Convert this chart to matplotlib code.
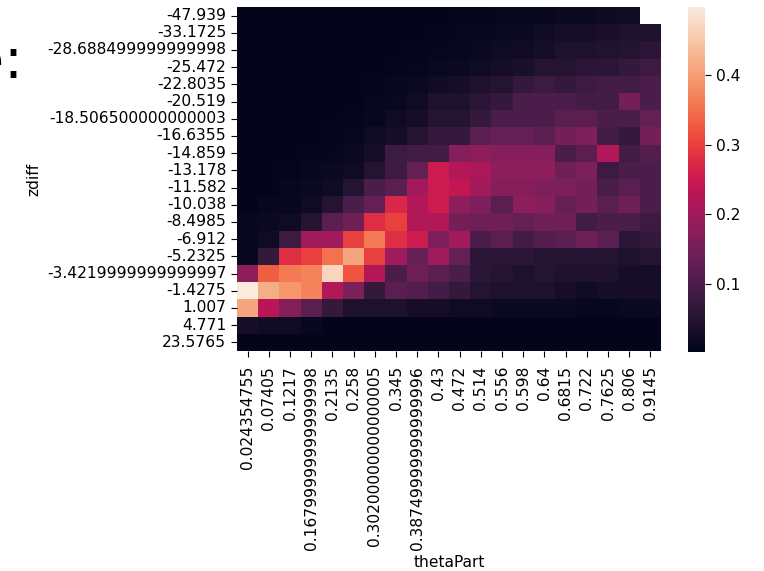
import numpy as np
import matplotlib
matplotlib.use("Agg")
import matplotlib.pyplot as plt
import seaborn as sns

zdiff = ["-47.939", "-33.1725", "-28.688499999999998", "-25.472", "-22.8035",
         "-20.519", "-18.506500000000003", "-16.6355", "-14.859", "-13.178",
         "-11.582", "-10.038", "-8.4985", "-6.912", "-5.2325",
         "-3.4219999999999997", "-1.4275", "1.007", "4.771", "23.5765"]

theta_part = ["0.024354755", "0.07405", "0.1217", "0.16799999999999998", "0.2135",
              "0.258", "0.30200000000000005", "0.345", "0.38749999999999996", "0.43",
              "0.472", "0.514", "0.556", "0.598", "0.64",
              "0.6815", "0.722", "0.7625", "0.806", "0.9145"]

nan = np.nan
# fraction of counts per (zdiff, thetaPart) cell
vals = [
    [0.004, 0.004, 0.004, 0.004, 0.004, 0.004, 0.004, 0.004, 0.005, 0.005, 0.006, 0.007, 0.008, 0.009, 0.010, 0.015, 0.015, 0.018, 0.020, nan],
    [0.004, 0.004, 0.004, 0.004, 0.004, 0.004, 0.004, 0.004, 0.005, 0.006, 0.008, 0.010, 0.012, 0.015, 0.020, 0.030, 0.030, 0.035, 0.040, 0.040],
    [0.004, 0.004, 0.004, 0.004, 0.004, 0.004, 0.004, 0.004, 0.006, 0.008, 0.010, 0.015, 0.020, 0.025, 0.030, 0.040, 0.040, 0.045, 0.050, 0.060],
    [0.004, 0.004, 0.004, 0.004, 0.004, 0.004, 0.004, 0.006, 0.008, 0.012, 0.015, 0.020, 0.030, 0.035, 0.050, 0.050, 0.060, 0.060, 0.070, 0.080],
    [0.004, 0.004, 0.004, 0.004, 0.004, 0.004, 0.006, 0.010, 0.015, 0.025, 0.030, 0.040, 0.050, 0.070, 0.080, 0.070, 0.080, 0.090, 0.090, 0.100],
    [0.004, 0.004, 0.004, 0.004, 0.004, 0.004, 0.008, 0.012, 0.020, 0.040, 0.040, 0.060, 0.070, 0.100, 0.100, 0.100, 0.090, 0.090, 0.150, 0.100],
    [0.004, 0.004, 0.004, 0.004, 0.004, 0.006, 0.010, 0.020, 0.030, 0.050, 0.050, 0.070, 0.100, 0.100, 0.100, 0.120, 0.120, 0.100, 0.100, 0.130],
    [0.004, 0.004, 0.004, 0.004, 0.006, 0.010, 0.020, 0.030, 0.050, 0.070, 0.070, 0.120, 0.130, 0.130, 0.120, 0.150, 0.160, 0.090, 0.070, 0.150],
    [0.004, 0.004, 0.005, 0.006, 0.008, 0.015, 0.030, 0.080, 0.090, 0.090, 0.170, 0.180, 0.170, 0.170, 0.170, 0.100, 0.120, 0.220, 0.090, 0.110],
    [0.004, 0.005, 0.006, 0.010, 0.015, 0.020, 0.050, 0.080, 0.130, 0.250, 0.220, 0.210, 0.180, 0.180, 0.180, 0.140, 0.160, 0.080, 0.100, 0.100],
    [0.005, 0.005, 0.010, 0.015, 0.020, 0.050, 0.100, 0.120, 0.200, 0.250, 0.240, 0.200, 0.170, 0.170, 0.160, 0.160, 0.150, 0.100, 0.120, 0.100],
    [0.005, 0.010, 0.010, 0.020, 0.050, 0.100, 0.130, 0.270, 0.220, 0.250, 0.180, 0.160, 0.120, 0.180, 0.170, 0.130, 0.150, 0.120, 0.140, 0.100],
    [0.010, 0.015, 0.020, 0.050, 0.120, 0.140, 0.280, 0.300, 0.220, 0.220, 0.150, 0.140, 0.140, 0.130, 0.140, 0.140, 0.090, 0.100, 0.100, 0.080],
    [0.010, 0.020, 0.080, 0.200, 0.200, 0.300, 0.360, 0.280, 0.250, 0.160, 0.200, 0.100, 0.120, 0.090, 0.110, 0.120, 0.140, 0.120, 0.060, 0.070],
    [0.010, 0.070, 0.280, 0.300, 0.350, 0.410, 0.300, 0.200, 0.130, 0.200, 0.130, 0.060, 0.060, 0.060, 0.050, 0.050, 0.050, 0.050, 0.040, 0.050],
    [0.180, 0.330, 0.360, 0.370, 0.470, 0.320, 0.220, 0.100, 0.140, 0.120, 0.100, 0.060, 0.050, 0.040, 0.050, 0.040, 0.040, 0.040, 0.030, 0.030],
    [0.498, 0.420, 0.390, 0.370, 0.220, 0.160, 0.070, 0.120, 0.110, 0.090, 0.070, 0.050, 0.040, 0.040, 0.040, 0.030, 0.020, 0.030, 0.030, 0.030],
    [0.410, 0.230, 0.170, 0.120, 0.070, 0.040, 0.040, 0.040, 0.030, 0.030, 0.020, 0.020, 0.015, 0.015, 0.015, 0.015, 0.010, 0.010, 0.015, 0.015],
    [0.030, 0.025, 0.020, 0.010, 0.005, 0.005, 0.005, 0.005, 0.005, 0.005, 0.005, 0.005, 0.005, 0.005, 0.005, 0.005, 0.005, 0.005, 0.005, 0.005],
    [0.002, 0.002, 0.002, 0.002, 0.002, 0.002, 0.002, 0.002, 0.002, 0.002, 0.002, 0.002, 0.002, 0.002, 0.002, 0.002, 0.002, 0.002, 0.002, 0.002],
]

fig = plt.figure(figsize=(7.64, 5.71), dpi=100)
ax = fig.add_axes([237/764, 1-351/571, 424/764, 344/571])
cax = fig.add_axes([688/764, 1-352/571, 17/764, 345/571])

sns.heatmap(np.array(vals), ax=ax, cbar_ax=cax,
            xticklabels=theta_part, yticklabels=zdiff)

fs = 11.2
ax.set_xlabel("thetaPart", fontsize=fs)
ax.set_ylabel("zdiff", fontsize=fs)
ax.tick_params(labelsize=fs, length=4.2)
ax.tick_params(axis="x", pad=6.5)
plt.setp(ax.get_yticklabels(), rotation=0)
plt.setp(ax.get_xticklabels(), rotation=90)
cax.tick_params(labelsize=fs, length=4.2)

# leftover of the slide text cut off at the left edge
fig.text(23/764, 1-78/571, "e:", fontsize=40, ha="right", va="baseline")

fig.savefig("out.png", dpi=100)
